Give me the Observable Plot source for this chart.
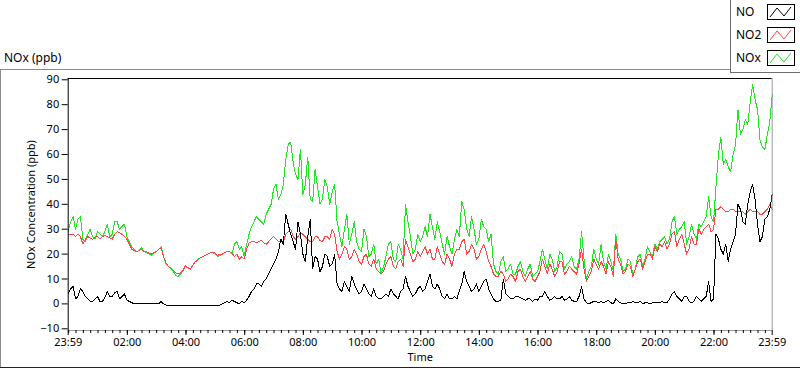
<!DOCTYPE html>
<html><head><meta charset="utf-8">
<script src="https://cdn.jsdelivr.net/npm/d3@7"></script>
<script src="https://cdn.jsdelivr.net/npm/@observablehq/plot@0.6"></script>
<style>
html,body{margin:0;padding:0;background:#fff;}
#wrap{position:relative;width:800px;height:369px;overflow:hidden;font-family:"Noto Sans",sans-serif;color:#000;}
#chart{position:absolute;left:0;top:0;}
.title{position:absolute;left:4px;top:51px;font-size:12px;line-height:14px;}
.pt{position:absolute;left:0;top:69px;width:731px;border-top:1px solid #8c8c8c;}
.pl{position:absolute;left:0;top:69px;height:299px;border-left:1px solid #8c8c8c;}
.pb{position:absolute;left:0;top:367px;width:800px;border-top:1px solid #222;}
#legend{position:absolute;left:730px;top:-1px;width:70px;height:72px;border-left:1px solid #6e6e6e;border-bottom:1px solid #6e6e6e;border-top:1px solid #6e6e6e;background:#fff;}
.lt{position:absolute;left:5px;font-size:12px;line-height:14px;}
.ls{position:absolute;left:36px;}
</style></head>
<body><div id="wrap">
<div class="pt"></div><div class="pl"></div><div class="pb"></div>
<div class="title">NOx (ppb)</div>
<div id="chart"></div>
<div id="legend"></div>
</div>
<script>
// sampling grid: minutes after 23:59, every 5 minutes
const minutes = d3.range(0, 1441, 5);
const seriesNames = ["NO", "NO2", "NOx"];
const seriesColors = ["#000000", "#ff4444", "#1ee61e"];
const noValues = [
4,6, 7,2, 3,6, 5,3, 2,1, 1,2, 3,1, 1,2.5, 5,3, 3,4.5, 5,2, 3,4,
1.5,1, 0.5,0, 0,0, 0,0, 0,0, 0,0, 0,0, 1,0, -0.5,-0.5, -0.5,-0.5, -0.5,-0.5, -0.5,-0.5, -0.5,-0.5, -0.5,-0.5, -0.5,-0.5, -0.5,-0.5, -0.5,-0.5, -0.5,-0.5, -0.5,-0.5, -0.5,0, 0.5,1, 0.5,1.5, 1,0.5, 0,1,
0.5,1.5, 3,5, 6,8, 8,7, 9,10, 12,14, 16,18, 21,26, 24,36, 32,28, 25,22, 33,28, 20,17, 27,34, 14,19, 18,13, 15,20, 19,15, 16,20, 8,6, 5,9, 7,5, 11,8, 6,4, 5,8, 6,4, 3,6, 3,2, 2,3, 4,3, 6,4, 3,2, 5,6, 11,7, 5,3, 4,6, 7,5,
6,9, 12,7, 6,8, 6,3, 2,4, 2,2, 3,2, 5,8, 13,9, 7,5, 6,8, 5,7, 9,10, 6,4, 2,1, 1,1.5, 10,4, 3,2, 2,3, 3,2.5, 2,1.5, 2,2, 1,2, 1.5,3, 3,5, 3,1.5, 2,3, 2,2, 3,1.5, 2,3, 1.5,1, 1,3, 7,2, 0.5,0, 0.5,1, 1,0.5,
1,0.5, 1,1.5, 0.5,0, 2,1, 0.5,0, 0,0.5, 0.5,1, 0.5,0.5, 1,0, 0.5,0.5, 0,0.5, 0.5,0.5, 0.5,1, 0.5,0.5, 2,4, 5,3, 2,1, 3,3, 1,0.5, 1,3, 2,1, 2,3, 9,1, 2,28, 26,22, 20,24, 17,22, 25,28, 40,38, 33,32, 40,45, 48,42, 32,25, 27,34, 35,38, 44];
const no2Values = [
28,28, 28,27, 28,27, 24,26, 27,26.5, 26,27, 27,26, 27,27.5, 27,26.5, 26,28, 29,28.5, 28,27,
26,24, 22,21.5, 21,21.5, 22,21, 21,20.5, 20,20.5, 21,22, 22.5,19, 16.5,15, 14.5,13.5, 12.5,12, 12.5,13.5, 15.5,14.5, 14,15.5, 17,17.5, 18.5,19, 19.5,20, 20.5,20.5, 20.5,19.5, 20,20, 20.5,21, 21,20.5, 19,20, 18,19,
18,22, 24.5,25, 25,24.5, 25,25.5, 24.5,24, 25,26, 27,26, 25,25, 25,28, 29,30, 27,26, 27,28.5, 28,27, 26,25, 25,27, 27,25.5, 25,27, 27,26, 30,28, 21,18, 20,23, 22,18, 19,22, 20,17, 16,19, 20,16, 15,18, 14,13, 12,13, 16,18, 19,15, 14,17, 18,15, 26,23, 20,17, 18,21, 19,21,
23,20, 22,18, 18,23, 20,17, 16,20, 18,15, 20,22, 22,25, 26,20, 21,24, 22,18, 19,22, 24,21, 17,15, 12,11, 11,13, 12,9, 10,12, 11,9, 13,14, 11,9, 11,13, 10,9, 11,13, 18,15, 12,16, 14,11, 13,17, 17,12, 13,15, 14,13, 12,16, 22,14, 9,11, 13,18, 16,14,
17,15, 12,17, 15,11, 26,18, 16,12, 13,16, 15,11, 14,17, 18,14, 17,20, 20,18, 23,21, 24,23, 25,22, 24,28, 29,23, 26,28, 24,20, 22,27, 24,24, 30,28, 30,31, 32,29, 30,38, 38,39, 38,37, 37,38, 38,37, 37,37, 37,36, 37,38, 37,37, 37,36, 36,37, 38,40, 38];
const noxValues = [
29,33, 35,30, 34,35, 26,25, 28,30, 27,26, 29,28, 27,29, 32,27, 28,33, 33,30, 31,32,
27,25, 23,22, 21,21.5, 22.5,21, 20.5,20, 19.5,20.5, 21,22, 23,19, 16,15, 14,13, 11.5,11, 12,13.5, 15,14.5, 14,15.5, 17,18, 18.5,19, 19.5,20, 20.5,20.5, 20,19, 19.5,20, 20.5,21, 21,20, 24,25, 22,23,
19,24, 28,31, 33,35, 34,33, 32,36, 38,40, 46,48, 42,44, 48,58, 64,65, 57,52, 50,62, 44,48, 59,42, 41,54, 47,40, 42,50, 47,40, 45,48, 33,28, 23,30, 36,24, 28,33, 25,22, 21,30, 27,19, 20,24, 16,18, 12,15, 19,24, 25,18, 17,24, 22,18, 40,33, 27,20, 22,28, 25,27,
31,27, 36,31, 26,33, 29,24, 20,27, 23,20, 26,30, 27,41, 38,30, 27,35, 30,24, 26,34, 31,30, 25,28, 16,13, 12,17, 19,13, 14,16, 12,12, 15,17, 13,11, 14,16, 11,12, 13,17, 22,18, 14,20, 18,13, 15,21, 20,14, 16,17, 19,15, 14,18, 29,18, 10,13, 15,22, 18,16,
24,17, 14,20, 17,13, 28,20, 18,13, 14,18, 17,12, 14,19, 20,15, 18,23, 21,19, 24,22, 25,26, 27,24, 26,33, 35,28, 30,31, 33,24, 27,32, 28,26, 32,31, 33,35, 43,35, 33,47, 60,67, 56,58, 55,53, 60,64, 78,68, 70,74, 72,81, 88,82, 78,66, 63,62, 68,73, 84];
const xTickLabels = ["23:59","02:00","04:00","06:00","08:00","10:00","12:00","14:00","16:00","18:00","20:00","22:00","23:59"];
const yTicks = [-10,0,10,20,30,40,50,60,70,80,90];
const yDomain = [-10.68, 90.52];

const base = Date.UTC(2020, 0, 1, 23, 59);
const toDate = m => new Date(base + m * 60000);
const start = toDate(0), end = toDate(1440);
const majorTicks = xTickLabels.map((s, i) => {
  if (i === 0) return start;
  if (i === xTickLabels.length - 1) return end;
  const [h, m] = s.split(":").map(Number);
  return toDate(h * 60 + m + 1);
});
const minorTicks = d3.utcMinute.every(15).range(start, end);
const allValues = [noValues, no2Values, noxValues];
const table = name => {
  const vals = allValues[seriesNames.indexOf(name)];
  return minutes.map((m, j) => ({time: toDate(m), value: vals[j], series: name}));
};
const fmt = d3.utcFormat("%H:%M");

const chart = Plot.plot({
  width: 800, height: 369,
  marginLeft: 67.7, marginRight: 28.3, marginTop: 78, marginBottom: 39,
  x: {type: "utc", domain: [start, end]},
  y: {domain: yDomain},
  style: {fontFamily: '"Noto Sans", sans-serif', fontSize: "11px", color: "#000", background: "transparent", overflow: "visible"},
  marks: [
    Plot.line(table("NOx"), {x: "time", y: "value", stroke: seriesColors[2], strokeWidth: 1, shapeRendering: "crispEdges"}),
    Plot.line(table("NO2"), {x: "time", y: "value", stroke: seriesColors[1], strokeWidth: 1, shapeRendering: "crispEdges"}),
    Plot.line(table("NO"), {x: "time", y: "value", stroke: seriesColors[0], strokeWidth: 1, shapeRendering: "crispEdges"}),
    Plot.ruleY([yDomain[1]], {stroke: "#000"}),
    Plot.ruleX([start], {stroke: "#000"}),
    Plot.ruleX([end], {stroke: "#9a9a9a"}),
    Plot.ruleY([yDomain[0]], {stroke: "#9a9a9a"}),
    Plot.axisY(yTicks, {anchor: "left", tickSize: 6, tickPadding: 3, label: "NOx Concentration (ppb)", labelAnchor: "center", labelArrow: "none", labelOffset: 41, fontSize: 11}),
    Plot.axisX(minorTicks, {anchor: "bottom", tickSize: 3, tickFormat: () => "", label: null}),
    Plot.axisX(majorTicks, {anchor: "bottom", tickSize: 5, tickPadding: 3, tickFormat: fmt, label: "Time", labelAnchor: "center", labelArrow: "none", labelOffset: 30, fontSize: 11})
  ]
});
document.getElementById("chart").appendChild(chart);

// legend
const legend = document.getElementById("legend");
const rowTops = [5, 28, 51];
seriesNames.forEach((name, i) => {
  const t = document.createElement("div");
  t.className = "lt"; t.style.top = rowTops[i] + "px"; t.textContent = name;
  legend.appendChild(t);
  const ns = "http://www.w3.org/2000/svg";
  const s = document.createElementNS(ns, "svg");
  s.setAttribute("class", "ls"); s.setAttribute("width", 28); s.setAttribute("height", 16);
  s.style.top = (rowTops[i] - 1) + "px";
  const r = document.createElementNS(ns, "rect");
  r.setAttribute("x", 0.5); r.setAttribute("y", 0.5); r.setAttribute("width", 27); r.setAttribute("height", 15);
  r.setAttribute("fill", "#fff"); r.setAttribute("stroke", "#000");
  s.appendChild(r);
  const p = document.createElementNS(ns, "polyline");
  p.setAttribute("points", "3,13 10,4 17,12 24,3");
  p.setAttribute("fill", "none"); p.setAttribute("stroke", seriesColors[i]);
  s.appendChild(p);
  legend.appendChild(s);
});
</script>
</body></html>
